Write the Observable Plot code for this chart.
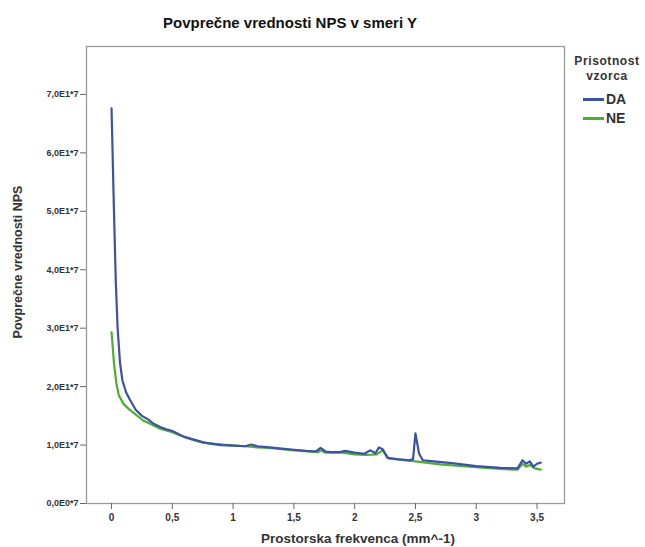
<!DOCTYPE html>
<html>
<head>
<meta charset="utf-8">
<script src="https://cdn.jsdelivr.net/npm/d3@7"></script>
<script src="https://cdn.jsdelivr.net/npm/@observablehq/plot@0.6"></script>
<style>
  html, body { margin: 0; padding: 0; background: #fff; }
  #wrap { position: relative; width: 645px; height: 547px; font-family: "Liberation Sans", Arial, sans-serif; }
  #wrap svg { position: absolute; left: 0; top: 0; }
  .ov { position: absolute; white-space: nowrap; color: #222; }
</style>
</head>
<body>
<div id="wrap"></div>
<script>
const titleText = "Povprečne vrednosti NPS v smeri Y";
const xLabel = "Prostorska frekvenca (mm^-1)";
const yLabel = "Povprečne vrednosti NPS";
const legendTitle = ["Prisotnost", "vzorca"];
const seriesNames = ["DA", "NE"];
const seriesColors = ["#3d51a5", "#4dae32"];

const xTicks = [0, 0.5, 1, 1.5, 2, 2.5, 3, 3.5];
const xTickLabels = ["0", "0,5", "1", "1,5", "2", "2,5", "3", "3,5"];
const yTicks = [0, 1e7, 2e7, 3e7, 4e7, 5e7, 6e7, 7e7];
const yTickLabels = ["0,0E0*7", "1,0E1*7", "2,0E1*7", "3,0E1*7", "4,0E1*7", "5,0E1*7", "6,0E1*7", "7,0E1*7"];

// DA series (frequency, value in units of 1e7)
const daFreq = [0, 0.02, 0.035, 0.05, 0.07, 0.09, 0.12, 0.15, 0.2, 0.25, 0.3, 0.35, 0.4, 0.45, 0.5, 0.55, 0.6, 0.65, 0.7, 0.75, 0.8, 0.9, 1.0, 1.1, 1.15, 1.2, 1.3, 1.4, 1.5, 1.6, 1.68, 1.72, 1.76, 1.8, 1.88, 1.92, 2.0, 2.08, 2.13, 2.17, 2.2, 2.23, 2.27, 2.35, 2.45, 2.48, 2.5, 2.53, 2.56, 2.65, 2.8, 3.0, 3.2, 3.34, 3.38, 3.41, 3.44, 3.47, 3.5, 3.53];
const daValue = [6.76, 5.0, 3.8, 3.0, 2.4, 2.1, 1.9, 1.78, 1.6, 1.5, 1.44, 1.36, 1.31, 1.27, 1.24, 1.19, 1.14, 1.11, 1.08, 1.05, 1.03, 1.0, 0.99, 0.98, 1.01, 0.98, 0.96, 0.94, 0.92, 0.9, 0.89, 0.95, 0.89, 0.88, 0.88, 0.9, 0.87, 0.85, 0.91, 0.86, 0.96, 0.93, 0.78, 0.76, 0.74, 0.76, 1.2, 0.85, 0.74, 0.72, 0.69, 0.64, 0.61, 0.6, 0.74, 0.68, 0.72, 0.63, 0.68, 0.7];

// NE series
const neFreq = [0, 0.02, 0.04, 0.06, 0.1, 0.15, 0.2, 0.26, 0.3, 0.4, 0.5, 0.57, 0.65, 0.75, 0.85, 0.96, 1.1, 1.2, 1.3, 1.5, 1.7, 1.72, 1.76, 1.9, 2.0, 2.1, 2.18, 2.23, 2.28, 2.4, 2.5, 2.7, 3.0, 3.2, 3.34, 3.38, 3.41, 3.44, 3.48, 3.53];
const neValue = [2.93, 2.4, 2.05, 1.85, 1.7, 1.6, 1.52, 1.42, 1.38, 1.28, 1.22, 1.16, 1.1, 1.04, 1.02, 1.0, 0.98, 0.96, 0.95, 0.91, 0.88, 0.91, 0.87, 0.87, 0.84, 0.83, 0.84, 0.91, 0.77, 0.74, 0.72, 0.67, 0.62, 0.59, 0.58, 0.68, 0.63, 0.66, 0.6, 0.58];

const rows = [];
daFreq.forEach((f, i) => rows.push({ f, v: daValue[i] * 1e7, s: seriesNames[0] }));
neFreq.forEach((f, i) => rows.push({ f, v: neValue[i] * 1e7, s: seriesNames[1] }));

const chart = Plot.plot({
  width: 645,
  height: 547,
  marginLeft: 86,
  marginRight: 81,
  marginTop: 46,
  marginBottom: 44,
  style: { fontFamily: "'Liberation Sans', Arial, sans-serif", background: "transparent" },
  x: { domain: [-0.206, 3.726] },
  y: { domain: [0, 7.82e7] },
  color: { domain: seriesNames, range: seriesColors },
  marks: [
    Plot.line(rows.filter(d => d.s === "NE"), { x: "f", y: "v", stroke: "s", strokeWidth: 2.2, curve: "linear" }),
    Plot.line(rows.filter(d => d.s === "DA"), { x: "f", y: "v", stroke: "s", strokeWidth: 2.2, curve: "linear" }),
    Plot.frame({ stroke: "#9a9a9a", strokeWidth: 1.3 }),
    Plot.axisX({ ticks: xTicks, tickFormat: (d, i) => xTickLabels[i], tickSize: 6, tickPadding: 4, stroke: "#666", fill: "#333", fontSize: 10, fontWeight: "bold", label: null }),
    Plot.axisY({ ticks: yTicks, tickFormat: (d, i) => yTickLabels[i], tickSize: 6, tickPadding: 2, stroke: "#666", fill: "#333", fontSize: 9, fontWeight: "bold", label: null })
  ]
});

const wrap = document.getElementById("wrap");
wrap.appendChild(chart);

function addText(txt, css) {
  const d = document.createElement("div");
  d.className = "ov";
  d.textContent = txt;
  Object.assign(d.style, css);
  wrap.appendChild(d);
  return d;
}

addText(titleText, { left: "290px", top: "14px", transform: "translateX(-50%)", fontSize: "15px", fontWeight: "bold", color: "#111" });
addText(xLabel, { left: "358px", top: "531px", transform: "translateX(-50%)", fontSize: "13.5px", fontWeight: "bold", color: "#333" });
addText(yLabel, { left: "18px", top: "262px", transform: "translate(-50%,-50%) rotate(-90deg)", fontSize: "12.5px", fontWeight: "bold", color: "#333" });
addText(legendTitle[0], { left: "607px", top: "54px", transform: "translateX(-50%)", fontSize: "12px", letterSpacing: "0.6px", fontWeight: "bold", color: "#333" });
addText(legendTitle[1], { left: "607px", top: "69px", transform: "translateX(-50%)", fontSize: "12px", letterSpacing: "0.6px", fontWeight: "bold", color: "#333" });
seriesNames.forEach((name, i) => {
  const y = 99 + i * 19;
  const sw = document.createElement("div");
  Object.assign(sw.style, { position: "absolute", left: "583px", top: (y - 1) + "px", width: "21px", height: "3px", background: seriesColors[i] });
  wrap.appendChild(sw);
  addText(name, { left: "606px", top: (y - 8) + "px", fontSize: "14px", fontWeight: "bold", color: "#333" });
});
</script>
</body>
</html>
